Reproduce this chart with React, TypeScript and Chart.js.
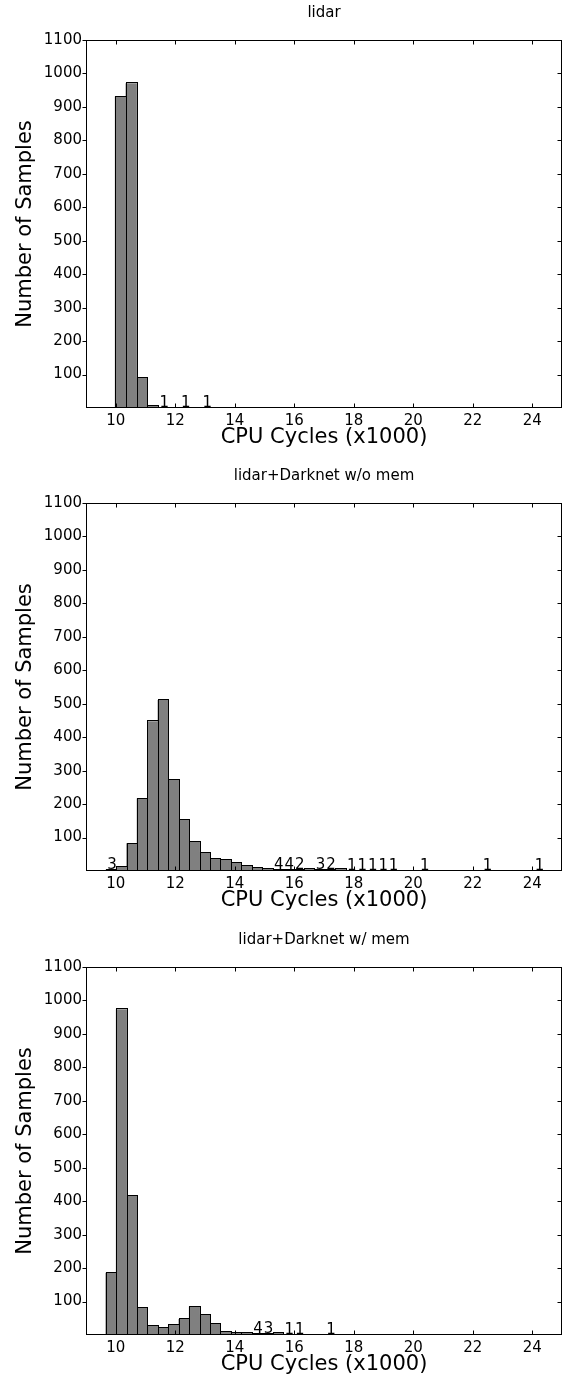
import React, { useEffect, useRef } from 'react';
import { Chart, registerables } from 'chart.js';

Chart.register(...registerables);

// ---------- data ----------
const panelTitles = ['lidar', 'lidar+Darknet w/o mem', 'lidar+Darknet w/ mem'];
const xAxisLabel = 'CPU Cycles (x1000)';
const yAxisLabel = 'Number of Samples';

const xTickValues = [10, 12, 14, 16, 18, 20, 22, 24];
const yTickValues = [100, 200, 300, 400, 500, 600, 700, 800, 900, 1000, 1100];
const X_MIN = 9;
const X_MAX = 25;
const Y_MAX = 1100;

// histogram bins: first bin left edge and bin width (x1000 cycles)
const lidarBinStart = 9.98;
const lidarBinWidth = 0.36;
const lidarCounts = [930, 970, 90, 7, 1, 0, 1, 0, 1];

const woMemBinStart = 9.664;
const woMemBinWidth = 0.3506;
const woMemCounts = [
  3, 13, 82, 216, 447, 510, 271, 153, 88, 55, 36, 34, 24, 15, 8, 7, 4, 4, 2, 6, 3,
  2, 5, 1, 1, 1, 1, 1, 0, 0, 1, 0, 0, 0, 0, 0, 1, 0, 0, 0, 0, 1,
];

const wMemBinStart = 9.664;
const wMemBinWidth = 0.3506;
const wMemCounts = [
  185, 973, 416, 81, 27, 20, 29, 47, 84, 60, 33, 10, 7, 5, 4, 3, 5, 1, 1, 0, 0, 1,
];

const LABEL_MAX = 4; // counts up to this value are annotated

// ---------- layout ----------
const FONT = "'DejaVu Sans', sans-serif";
const W = 563;
const PLOT_LEFT = 86;
const PLOT_RIGHT = 562;
const PLOT_H = 368;
const canvasTops = [0, 464, 928];
const canvasHeights = [464, 464, 451];
const plotTops = [40, 39, 39];

const panelData = [
  { counts: lidarCounts, start: lidarBinStart, width: lidarBinWidth },
  { counts: woMemCounts, start: woMemBinStart, width: woMemBinWidth },
  { counts: wMemCounts, start: wMemBinStart, width: wMemBinWidth },
];

const decorPlugin = {
  id: 'decor',
  afterDatasetsDraw(chart: any, _args: any, opts: any) {
    const { ctx, chartArea: a, scales } = chart;
    const x = scales.x;
    const y = scales.y;
    const counts: number[] = opts.counts;
    const meta = chart.getDatasetMeta(0);
    ctx.save();
    ctx.strokeStyle = '#000';
    ctx.fillStyle = '#000';
    ctx.lineWidth = 1;

    // bar outlines
    meta.data.forEach((el: any, i: number) => {
      if (!counts[i]) return;
      const p = el.getProps(['x', 'y', 'base', 'width'], true);
      const l = Math.round(p.x - p.width / 2) + 0.5;
      const r = Math.round(p.x + p.width / 2) + 0.5;
      const t = Math.round(p.y) - 0.5;
      const b = Math.round(p.base) - 0.5;
      ctx.strokeRect(l, t, r - l, Math.max(0, b - t));
    });

    // frame
    const L = Math.round(a.left) + 0.5;
    const R = Math.round(a.right) - 0.5;
    const T = Math.round(a.top) + 0.5;
    const B = Math.round(a.bottom) - 0.5;
    ctx.strokeRect(L, T, R - L, B - T);

    // ticks
    ctx.beginPath();
    xTickValues.forEach((v) => {
      const px = Math.round(x.getPixelForValue(v)) + 0.5;
      ctx.moveTo(px, B);
      ctx.lineTo(px, B - 4);
      ctx.moveTo(px, T);
      ctx.lineTo(px, T + 4);
    });
    yTickValues.forEach((v) => {
      const py = Math.round(y.getPixelForValue(v)) + 0.5;
      ctx.moveTo(L - 4, py);
      ctx.lineTo(L, py);
      ctx.moveTo(R, py);
      ctx.lineTo(R - 4, py);
    });
    ctx.stroke();

    // count annotations
    ctx.font = `15px ${FONT}`;
    ctx.textAlign = 'center';
    ctx.textBaseline = 'alphabetic';
    meta.data.forEach((el: any, i: number) => {
      const v = counts[i];
      if (v >= 1 && v <= LABEL_MAX) {
        ctx.fillText(String(v), el.x + 1, y.getPixelForValue(v) - 1);
      }
    });

    // title
    const cx = (a.left + a.right) / 2;
    ctx.textBaseline = 'middle';
    ctx.font = `15px ${FONT}`;
    ctx.fillText(opts.title, cx, a.top - 27);

    // x axis label
    ctx.font = `21px ${FONT}`;
    ctx.fillText(xAxisLabel, cx, a.bottom + 30);

    // y axis label
    ctx.save();
    ctx.translate(26, (a.top + a.bottom) / 2);
    ctx.rotate(-Math.PI / 2);
    ctx.fillText(yAxisLabel, 0, 0);
    ctx.restore();

    ctx.restore();
  },
};

function Panel({ idx }: { idx: number }) {
  const ref = useRef<HTMLCanvasElement>(null);
  useEffect(() => {
    const canvas = ref.current!;
    const d = panelData[idx];
    const h = canvasHeights[idx];
    const top = plotTops[idx];
    const points = d.counts.map((c, i) => ({ x: d.start + d.width * (i + 0.5), y: c }));
    const chart = new Chart(canvas, {
      type: 'bar',
      data: {
        datasets: [
          {
            data: points,
            backgroundColor: '#808080',
            borderWidth: 0,
            barPercentage: 1,
            categoryPercentage: 1,
          } as any,
        ],
      },
      options: {
        animation: false,
        responsive: false,
        devicePixelRatio: 1,
        layout: { padding: { top, right: W - PLOT_RIGHT, left: 0, bottom: 0 } },
        plugins: {
          legend: { display: false },
          tooltip: { enabled: false },
          title: { display: false },
          decor: { title: panelTitles[idx], counts: d.counts },
        } as any,
        scales: {
          x: {
            type: 'linear',
            min: X_MIN,
            max: X_MAX,
            offset: false,
            grid: { display: false, drawTicks: false },
            border: { display: false },
            afterBuildTicks: (s: any) => {
              s.ticks = xTickValues.map((v) => ({ value: v }));
            },
            afterFit: (s: any) => {
              s.height = h - top - PLOT_H;
            },
            ticks: {
              font: { family: FONT, size: 15 },
              color: '#000',
              padding: 4,
              maxRotation: 0,
              autoSkip: false,
              callback: (v: any) => String(v),
            },
          },
          y: {
            min: 0,
            max: Y_MAX,
            grid: { display: false, drawTicks: false },
            border: { display: false },
            afterBuildTicks: (s: any) => {
              s.ticks = yTickValues.map((v) => ({ value: v }));
            },
            afterFit: (s: any) => {
              s.width = PLOT_LEFT;
            },
            ticks: {
              font: { family: FONT, size: 15 },
              color: '#000',
              padding: 4,
              callback: (v: any) => String(v),
            },
          },
        },
      } as any,
      plugins: [decorPlugin],
    });
    return () => chart.destroy();
  }, [idx]);
  return (
    <canvas
      ref={ref}
      width={W}
      height={canvasHeights[idx]}
      style={{ position: 'absolute', left: 0, top: canvasTops[idx], width: W, height: canvasHeights[idx] }}
    />
  );
}

export default function App() {
  return (
    <div style={{ position: 'absolute', left: 0, top: 0, width: W, height: 1379, background: '#fff' }}>
      <Panel idx={0} />
      <Panel idx={1} />
      <Panel idx={2} />
    </div>
  );
}
